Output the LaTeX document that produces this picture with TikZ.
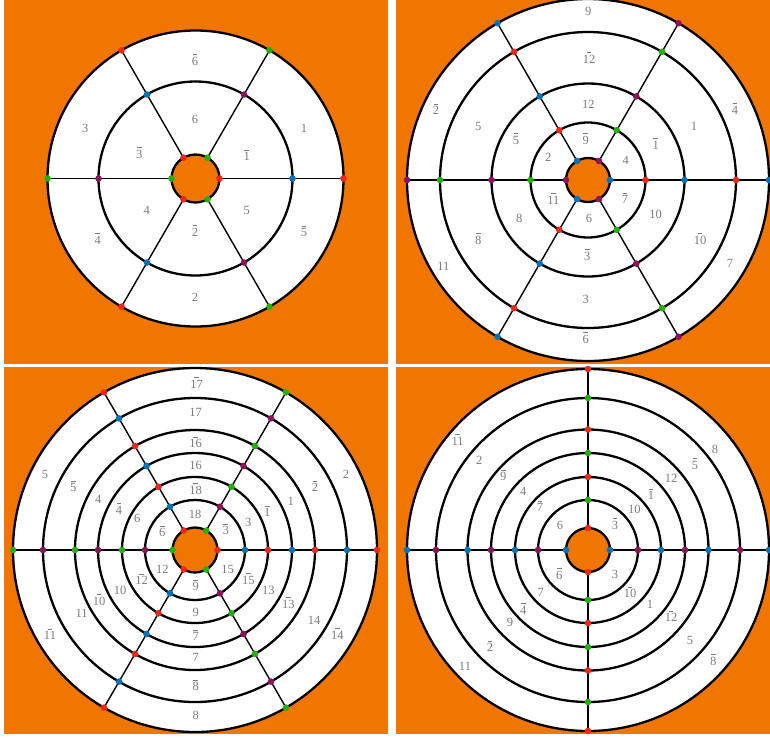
\documentclass[tikz,border=0pt]{standalone}
\usepackage{fontspec}
\setmainfont{Liberation Serif}
\definecolor{bgorange}{RGB}{240,118,0}
\definecolor{dotred}{RGB}{238,40,20}
\definecolor{dotgreen}{RGB}{36,176,10}
\definecolor{dotblue}{RGB}{0,114,188}
\definecolor{dotpurple}{RGB}{140,20,90}
\definecolor{lblgray}{RGB}{125,125,125}
\colorlet{dc3}{dotred}
\colorlet{dc2}{dotgreen}
\colorlet{dc1}{dotblue}
\colorlet{dc0}{dotpurple}
\newcommand\ngn[1]{\leavevmode\setbox0\hbox{#1}\hbox to \wd0{\hss\rule[10.2pt]{4.6pt}{0.6pt}\hss}\kern-\wd0\box0}
\tikzset{
  ringline/.style={draw=black,line width=2.3pt},
  spokeline/.style={draw=black,line width=1.4pt},
  vdot/.style={circle,inner sep=0pt,minimum size=6.6pt,draw=none},
  lbl/.style={text=lblgray,font=\fontsize{12.5}{14}\selectfont,inner sep=0pt,text height=8.4pt,text depth=0pt},
  panelbg/.style={fill=bgorange},
}
\begin{document}
\begin{tikzpicture}[x=1pt,y=-1pt]
\useasboundingbox (0,0) rectangle (770,740);
\fill[white] (0,0) rectangle (770,740);
\fill[panelbg] (4,0) rectangle (388,364);
\fill[panelbg] (396,0) rectangle (770,364);
\fill[panelbg] (4,367) rectangle (388,734);
\fill[panelbg] (396,367) rectangle (770,734);

% ---------- panel 1 ----------
\coordinate (c1) at (195.5,178.5);
\fill[white] (c1) circle (148pt);
\fill[bgorange] (c1) circle (24pt);
\foreach \r in {24,97,148} \draw[ringline] (c1) circle (\r pt);
\foreach \i/\r in {1/24,2/97,3/148}{\foreach \j in {1,...,6}{\pgfmathtruncatemacro\ang{60*(\j-1)}\path (c1) ++(\ang:\r pt) coordinate (p1-\i-\j);}}
\foreach \j in {1,...,6} \draw[spokeline] (p1-1-\j) -- (p1-3-\j);
\foreach \i in {1,2,3}{\foreach \j in {1,...,6}{\pgfmathtruncatemacro\k{2*mod(\i,2)+mod(\j,2)}\node[vdot,fill=dc\k] (d1-\i-\j) at (p1-\i-\j) {};}}
\foreach \x/\y/\t [count=\n] in {195/61/\ngn{6},195/119/6,246.7/156.7/\ngn{1},304/128.3/1,85.3/128.3/3,139.3/154/\ngn{3},146.7/210.7/4,97.7/240/\ngn{4},195/232/\ngn{2},195/297.7/2,246.7/210.7/5,304/232.3/\ngn{5}}
  \node[lbl] (l1-\n) at (\x,\y) {\t};

% ---------- panel 2 ----------
\coordinate (c2) at (588,180);
\fill[white] (c2) circle (181pt);
\fill[bgorange] (c2) circle (22pt);
\foreach \r in {22,57.5,96.5,148,181} \draw[ringline] (c2) circle (\r pt);
\foreach \i/\r in {1/22,2/57.5,3/96.5,4/148,5/181}{\foreach \j in {1,...,6}{\pgfmathtruncatemacro\ang{60*(\j-1)}\path (c2) ++(\ang:\r pt) coordinate (p2-\i-\j);}}
\foreach \j in {1,...,6} \draw[spokeline] (p2-1-\j) -- (p2-5-\j);
\foreach \i in {1,...,5}{\foreach \j in {1,...,6}{\pgfmathtruncatemacro\k{2*mod(\i+1,2)+mod(\j,2)}\node[vdot,fill=dc\k] (d2-\i-\j) at (p2-\i-\j) {};}}
\foreach \x/\y/\t [count=\n] in {588.3/11/9,589/59/\ngn{12},588.3/104.3/12,585.7/140/\ngn{9},548.3/157.3/2,625.7/160/4,553.3/200/\ngn{11},625/199.3/\ngn{7},589/218.3/6,587.3/256/\ngn{3},585.7/299/3,585.7/339/\ngn{6},655.7/145/\ngn{1},694/126.7/1,735/110/\ngn{4},516/140/\ngn{5},478.3/126.7/5,436/110.7/\ngn{2},519.3/218.3/8,478.3/240/\ngn{8},443.3/266/11,655.7/214/10,700/240/\ngn{10},730/263.3/7}
  \node[lbl] (l2-\n) at (\x,\y) {\t};

% ---------- panel 3 ----------
\coordinate (c3) at (195,550);
\fill[white] (c3) circle (182pt);
\fill[bgorange] (c3) circle (22.5pt);
\foreach \r in {22.5,50,73,97,120,152,182} \draw[ringline] (c3) circle (\r pt);
\foreach \i/\r in {1/22.5,2/50,3/73,4/97,5/120,6/152,7/182}{\foreach \j in {1,...,6}{\pgfmathtruncatemacro\ang{60*(\j-1)}\path (c3) ++(\ang:\r pt) coordinate (p3-\i-\j);}}
\foreach \j in {1,...,6} \draw[spokeline] (p3-1-\j) -- (p3-7-\j);
\foreach \i in {1,...,7}{\foreach \j in {1,...,6}{\pgfmathtruncatemacro\k{2*mod(\i,2)+mod(\j,2)}\node[vdot,fill=dc\k] (d3-\i-\j) at (p3-\i-\j) {};}}
\foreach \x/\y/\t [count=\n] in {196.7/384/\ngn{17},195.7/412.7/17,195.7/443.3/\ngn{16},195.7/465/16,195.7/490/\ngn{18},195/514.3/18,225.7/530.7/\ngn{3},248.3/522.3/3,267.3/512.7/\ngn{1},290.7/501.7/1,315/487.3/\ngn{2},346/474/2,162.3/532.3/\ngn{6},137.3/518.3/6,119/510/\ngn{4},98.3/499.3/4,73.3/487.3/\ngn{5},45/474/5,162.3/569.3/12,141.7/580.7/\ngn{12},120/590.7/10,99/601/\ngn{10},81.7/613.3/11,50/635.7/\ngn{11},195.7/586.7/\ngn{9},195.7/612.7/9,195.7/636.7/\ngn{7},195.7/657.3/7,195.7/686.7/\ngn{8},195.7/715/8,227.7/569/15,248.3/580/\ngn{15},268.3/590.7/13,288.3/604/\ngn{13},314/620.7/14,337.3/635/\ngn{14}}
  \node[lbl] (l3-\n) at (\x,\y) {\t};

% ---------- panel 4 ----------
\coordinate (c4) at (588,550);
\fill[white] (c4) circle (181pt);
\fill[bgorange] (c4) circle (22pt);
\foreach \r in {22,50,73,97,120.5,152,181} \draw[ringline] (c4) circle (\r pt);
\foreach \i/\r in {1/22,2/50,3/73,4/97,5/120.5,6/152,7/181}{\foreach \j in {1,...,4}{\pgfmathtruncatemacro\ang{90*(\j-1)}\path (c4) ++(\ang:\r pt) coordinate (p4-\i-\j);}}
\foreach \j in {1,...,4} \draw[spokeline] (p4-1-\j) -- (p4-7-\j);
\foreach \i in {1,...,7}{\foreach \j in {1,...,4}{\pgfmathtruncatemacro\k{2*mod(\j+1,2)+mod(\i,2)}\node[vdot,fill=dc\k] (d4-\i-\j) at (p4-\i-\j) {};}}
\foreach \x/\y/\t [count=\n] in {615/525/\ngn{3},634.3/509.3/10,651/495.7/\ngn{1},671/478.3/12,695/465/\ngn{5},715/449/8,560/525.7/6,540/507.3/\ngn{7},523.3/491/4,503.3/476.7/\ngn{9},479.3/460.7/2,457.7/441/\ngn{11},559.3/575/\ngn{6},540.7/592.3/7,523.3/610/\ngn{4},510/622.7/9,490/647.3/\ngn{2},465/666/11,615/574.3/3,630/593.3/\ngn{10},650/604.3/1,671/617.3/\ngn{12},690/640.7/5,713.3/661/\ngn{8}}
  \node[lbl] (l4-\n) at (\x,\y) {\t};
\end{tikzpicture}
\end{document}
